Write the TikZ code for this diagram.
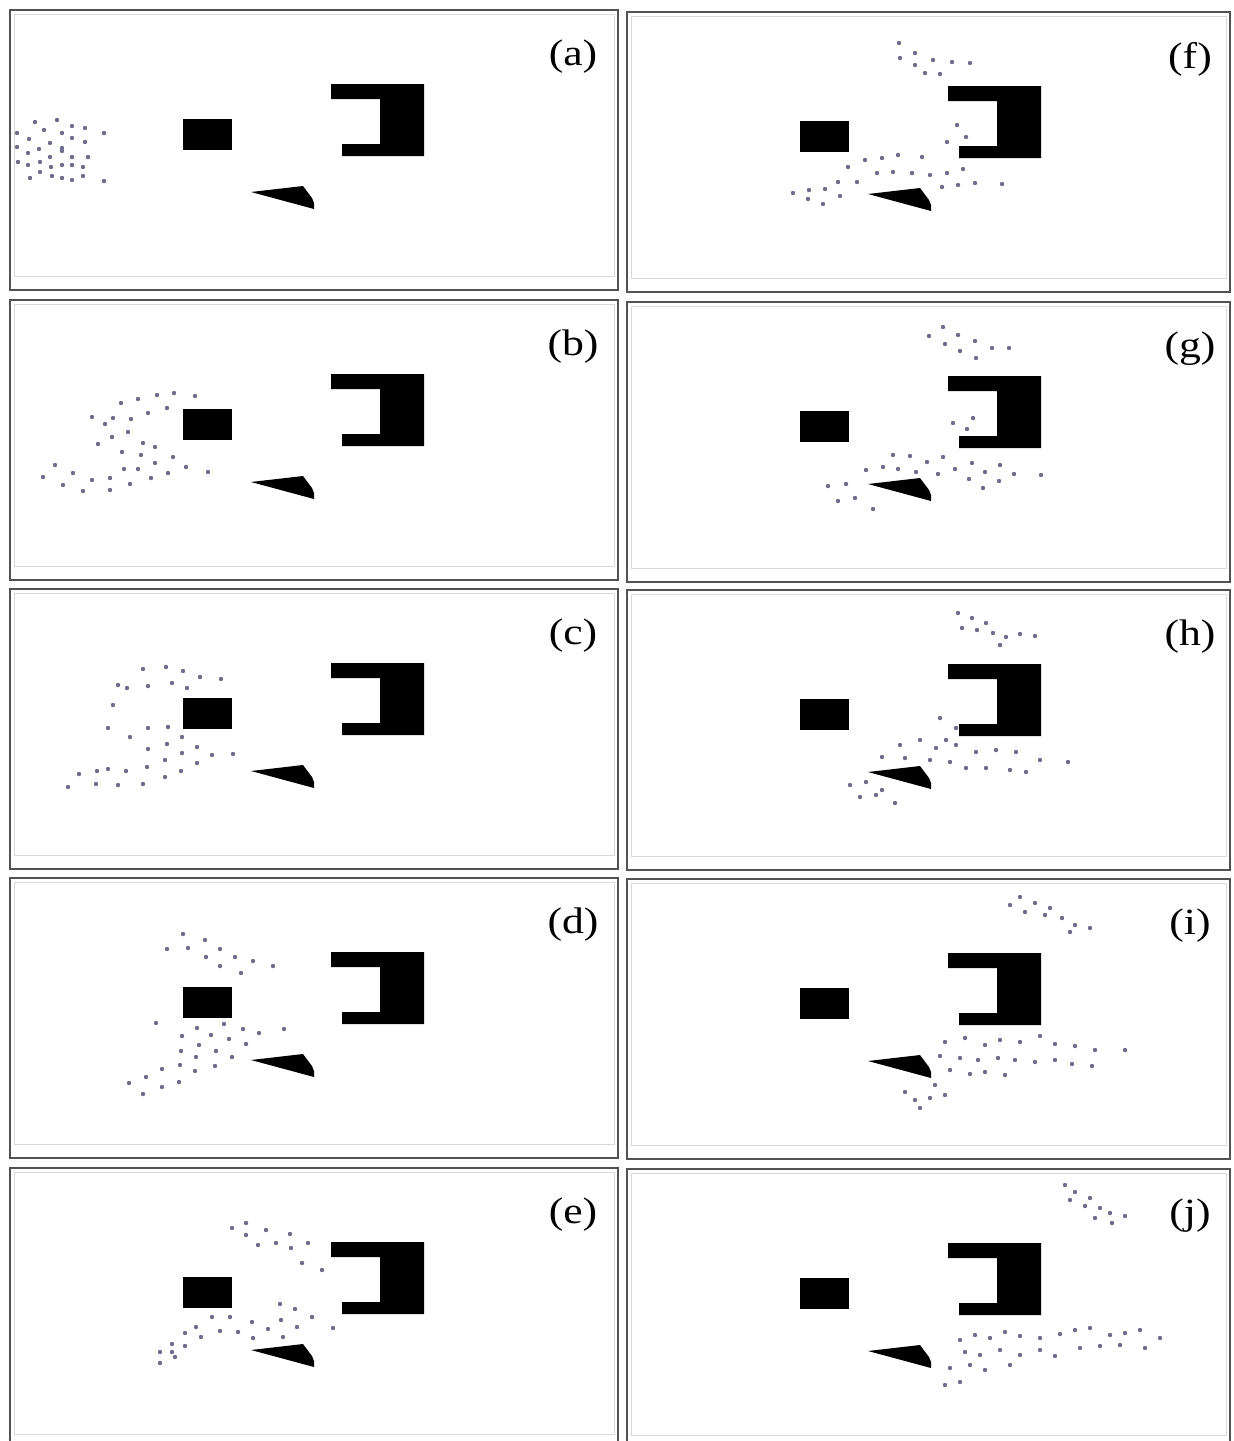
\documentclass[tikz,border=0pt]{standalone}
\usepackage{fontspec}
\setmainfont{Liberation Serif}
\definecolor{dotcol}{RGB}{110,110,140}
\begin{document}
\begin{tikzpicture}[x=0.5pt,y=-0.5pt]
\tikzset{
 frameout/.style={draw=black!68, line width=1.2pt},
 framein/.style={draw=black!15, line width=0.35pt},
 obst/.style={fill=black},
 agent/.style={fill=dotcol},
 lbl/.style={font=\fontsize{18.5}{20}\selectfont, xscale=1.18, inner sep=0pt}
}
\useasboundingbox (0,0) rectangle (1233,1441);
\clip (0,0) rectangle (1233,1441);
\fill[white] (0,0) rectangle (1233,1441);
\newcommand\panelfig[4]{%
 \begin{scope}[shift={(#1,#2)}]
  \draw[framein] (4,4) rectangle (#3-4,266);
  \draw[frameout] (0,0) rectangle (#3,280);
  \fill[obst] (173,109) rectangle (222,140);
  \fill[obst] (321,74) -- (414,74) -- (414,146) -- (332,146) -- (332,134) -- (370,134) -- (370,89) -- (321,89) -- cycle;
  \fill[obst] (241,182) -- (293,176) -- (302,188) -- (304,193) -- (304,199) -- cycle;
  \node[lbl] (lab#4) at (563,47) {(#4)};
 \end{scope}}
\panelfig{10}{10}{608}{a}
\panelfig{10}{300}{608}{b}
\panelfig{10}{589}{608}{c}
\panelfig{10}{878}{608}{d}
\panelfig{10}{1168}{608}{e}
\panelfig{627}{12}{603}{f}
\panelfig{627}{302}{603}{g}
\panelfig{627}{590}{603}{h}
\panelfig{627}{879}{603}{i}
\panelfig{627}{1169}{603}{j}
% (a)
\foreach \p in {(35,122),(57,120),(72,126),(85,128),(104,133),(17,133),(44,130),(62,133),(72,138),(85,142),(29,139),(50,143),(62,148),(17,147),(39,149),(62,151),(28,153),(50,157),(72,157),(88,157),(28,165),(40,162),(51,167),(62,165),(72,165),(83,167),(30,178),(40,172),(52,176),(62,178),(72,180),(83,176),(104,181),(18,162)}
 \fill[agent] \p circle[radius=2.2];
% (b)
\foreach \p in {(121,403),(138,399),(157,395),(174,393),(195,396),(167,408),(148,413),(92,417),(113,418),(131,419),(105,424),(128,432),(112,437),(98,444),(143,443),(155,447),(122,452),(141,455),(173,457),(155,463),(55,465),(124,469),(138,469),(186,467),(208,472),(73,473),(168,473),(43,477),(92,480),(110,478),(151,478),(63,485),(130,484),(83,491),(110,490)}
 \fill[agent] \p circle[radius=2.2];
% (c)
\foreach \p in {(143,669),(166,667),(183,671),(200,677),(221,679),(118,685),(127,688),(148,686),(172,683),(187,688),(113,705),(108,728),(148,728),(168,727),(130,737),(182,737),(148,749),(167,744),(197,747),(182,753),(212,755),(233,754),(165,760),(197,763),(147,767),(79,774),(97,771),(108,769),(126,771),(181,771),(165,777),(68,787),(96,784),(118,785),(143,784)}
 \fill[agent] \p circle[radius=2.2];
% (d)
\foreach \p in {(183,934),(205,940),(167,949),(188,948),(220,949),(206,957),(235,957),(253,961),(220,966),(273,966),(241,973),(156,1023),(197,1028),(224,1024),(243,1029),(259,1033),(284,1029),(182,1036),(211,1035),(229,1039),(246,1044),(199,1045),(181,1051),(216,1051),(196,1057),(232,1057),(180,1065),(215,1066),(162,1069),(195,1071),(146,1077),(179,1082),(129,1083),(162,1087),(143,1094)}
 \fill[agent] \p circle[radius=2.2];
% (e)
\foreach \p in {(232,1228),(246,1223),(266,1230),(246,1235),(290,1234),(258,1245),(276,1243),(291,1248),(308,1243),(302,1263),(322,1270),(280,1304),(295,1309),(312,1317),(333,1328),(212,1317),(230,1317),(252,1322),(281,1320),(297,1327),(196,1327),(220,1331),(238,1332),(268,1329),(283,1337),(253,1338),(185,1333),(201,1337),(172,1344),(185,1346),(160,1352),(172,1352),(175,1357),(160,1363)}
 \fill[agent] \p circle[radius=2.2];
% (f)
\foreach \p in {(899,43),(915,53),(900,58),(915,65),(933,60),(952,62),(970,63),(925,73),(940,74),(957,125),(966,137),(947,142),(865,160),(882,158),(898,155),(922,157),(848,167),(877,173),(893,172),(912,173),(930,175),(947,173),(963,169),(838,182),(857,182),(942,187),(958,185),(975,183),(1002,184),(793,193),(809,190),(825,189),(840,196),(808,199),(823,204)}
 \fill[agent] \p circle[radius=2.2];
% (g)
\foreach \p in {(943,327),(929,336),(958,335),(975,341),(945,344),(960,351),(992,348),(1009,348),(976,358),(973,418),(953,423),(967,429),(893,455),(910,456),(943,457),(927,462),(972,463),(1000,465),(883,467),(898,469),(955,469),(866,470),(916,472),(938,474),(985,472),(1014,474),(1041,475),(969,479),(999,481),(846,484),(828,486),(983,488),(855,498),(838,501),(873,509)}
 \fill[agent] \p circle[radius=2.2];
% (h)
\foreach \p in {(958,613),(972,618),(986,623),(962,628),(977,630),(993,633),(1006,637),(1020,634),(1035,636),(1000,645),(940,718),(956,728),(946,740),(900,745),(920,740),(936,748),(956,745),(976,752),(996,750),(1016,752),(1040,760),(1068,762),(882,757),(905,758),(930,760),(950,762),(966,768),(986,768),(1010,770),(1026,772),(850,785),(866,782),(876,795),(895,803),(860,797),(882,790)}
 \fill[agent] \p circle[radius=2.2];
% (i)
\foreach \p in {(1020,897),(1035,903),(1050,908),(1010,905),(1025,912),(1045,915),(1062,918),(1075,925),(1090,928),(1070,932),(945,1042),(965,1038),(985,1045),(1000,1040),(1020,1042),(1040,1036),(1055,1044),(1075,1046),(1095,1050),(1125,1050),(940,1056),(960,1058),(978,1060),(998,1058),(1015,1060),(1035,1062),(1055,1060),(1072,1064),(1092,1066),(950,1070),(970,1074),(985,1072),(1005,1075),(905,1092),(915,1100),(930,1098),(945,1095),(920,1108),(935,1085)}
 \fill[agent] \p circle[radius=2.2];
% (j)
\foreach \p in {(1065,1185),(1075,1192),(1090,1198),(1070,1200),(1085,1206),(1100,1208),(1110,1213),(1125,1216),(1095,1218),(1112,1223),(960,1340),(975,1335),(990,1338),(1005,1332),(1020,1336),(1040,1338),(1060,1334),(1075,1330),(1090,1328),(1110,1335),(1125,1333),(1140,1330),(1160,1338),(965,1352),(980,1355),(1000,1350),(1020,1355),(1040,1350),(1055,1356),(1080,1348),(1100,1346),(1120,1345),(1145,1348),(950,1368),(970,1365),(985,1370),(1010,1365),(945,1385),(960,1382)}
 \fill[agent] \p circle[radius=2.2];
\end{tikzpicture}
\end{document}
